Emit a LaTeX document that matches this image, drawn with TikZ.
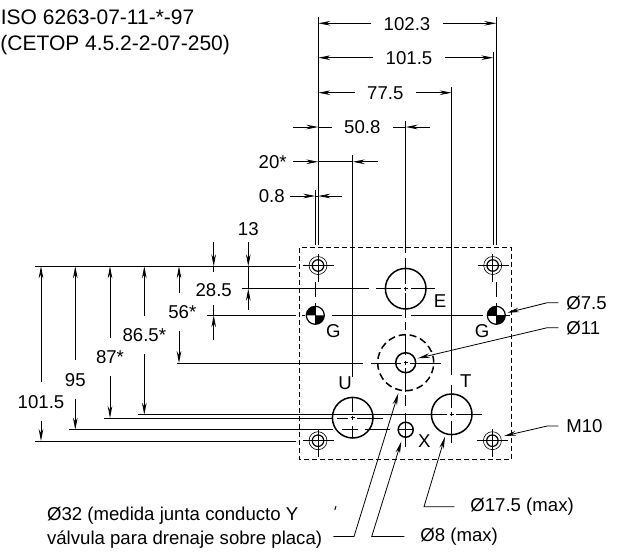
\documentclass[tikz,border=0pt]{standalone}
\usepackage{fontspec}
\setmainfont{Liberation Sans}
\usetikzlibrary{arrows.meta,positioning}
\tikzset{
  lab/.style={font=\fontsize{18.6}{22}\selectfont,inner sep=0pt,text height=13.4pt,text depth=0pt},
  head/.style={font=\fontsize{21}{25}\selectfont,inner sep=0pt,anchor=west,text height=15pt,text depth=0pt},
  hdim/.style={lab,inner xsep=12pt},
  vdim/.style={lab,minimum height=38pt},
  port/.style={circle,draw,line width=1.5pt,inner sep=0pt,minimum size=40.6pt},
  hole/.style={circle,draw,line width=1.2pt,inner sep=0pt,minimum size=11.5pt},
  holeout/.style={circle,draw,line width=.6pt,inner sep=0pt,minimum size=18pt},
  tick/.style={line width=.8pt}
}
\newcommand{\ctick}[1]{\draw[tick] (#1.center) ++(-2,0) -- ++(4,0) (#1.center) ++(0,-2) -- ++(0,4);}
\begin{document}
\begin{tikzpicture}[x=1pt,y=-1pt,line width=.8pt,>={Stealth[length=12pt,width=4.6pt]}]
  \useasboundingbox (0,0) rectangle (621,552);
  % reference lines
  \coordinate (xa) at (318.3,0);
  \coordinate (xb) at (315.3,0);
  \coordinate (xc) at (352.7,0);
  \coordinate (xd) at (405.7,0);
  \coordinate (xe) at (451.7,0);
  \coordinate (xf) at (493.3,0);
  \coordinate (xg) at (496.3,0);
  \coordinate (xq) at (179,0);
  \coordinate (ya) at (0,266.3);
  \coordinate (yb) at (0,288.7);
  \coordinate (yc) at (0,315.3);
  \coordinate (yd) at (0,363);
  \coordinate (ye) at (0,414.7);
  \coordinate (yf) at (0,418);
  \coordinate (yg) at (0,429.7);
  \coordinate (yh) at (0,441);

  % plate
  \draw[line width=.8pt,dash pattern=on 5pt off 3pt] (299.7,247.7) rectangle (511.7,459.3);

  % ports
  \node[port] (E) at (405.7,288.7) {};
  \node[port] (U) at (352.7,417.7) {};
  \node[port] (T) at (451.7,414.3) {};
  \node[circle,draw,line width=1.5pt,dash pattern=on 7pt off 4pt,inner sep=0pt,minimum size=56pt] (Y) at (405.7,362.7) {};
  \node[circle,draw,line width=1.5pt,inner sep=0pt,minimum size=20pt] (P) at (405.7,362.7) {};
  \node[circle,draw,line width=1.5pt,inner sep=0pt,minimum size=15pt] (X) at (405.7,429.7) {};
  \foreach \n/\x/\y in {ha/318/265.5,hb/492.7/265.5,hc/318/440.7,hd/492.4/440.7} {
    \node[holeout] (\n o) at (\x,\y) {};
    \node[hole] (\n) at (\x,\y) {};
    \draw (\n.center) ++(-15,0) -- ++(31,0) (\n.center) ++(0,-11.5) -- ++(0,28);
  }
  \foreach \g/\x in {gl/315.3,gr/496.3} {
    \node[circle,draw,line width=1.2pt,inner sep=0pt,minimum size=18pt] (\g) at (\x,315.3) {};
    \fill (\g.center) -- ++(9,0) arc[start angle=0,end angle=90,radius=9] -- cycle;
    \fill (\g.center) -- ++(-9,0) arc[start angle=180,end angle=270,radius=9] -- cycle;
  }
  \foreach \n in {E,U,T,P} {\ctick{\n}}

  % port letters
  \node[lab] (lE) at (440,300.7) {E};
  \node[lab] (lG) at (333.3,331) {G};
  \node[lab] (lH) at (482,331) {G};
  \node[lab] (lU) at (345,382.7) {U};
  \node[lab] (lT) at (465.7,380.3) {T};
  \node[lab] (lX) at (424.3,440.7) {X};

  % extension and centre lines, vertical
  \draw (318.3,17) -- (318.3,245);
  \draw (315.3,190) -- (315.3,245) (315.3,281.7) -- (315.3,296.7) (315.3,303) -- (315.3,325);
  \draw (496.3,17) -- (496.3,245) (496.3,281.7) -- (496.3,296.7) (496.3,303) -- (496.3,325);
  \draw (493.3,52) -- (493.3,245);
  \draw (451.7,87) -- (451.7,375) (451.7,385) -- (451.7,408) (451.7,421) -- (451.7,443);
  \draw (405.7,121) -- (405.7,253) (405.7,258) -- (405.7,284) (405.7,293) -- (405.7,318)
        (405.7,322) -- (405.7,330) (405.7,334) -- (405.7,355) (405.7,368) -- (405.7,392)
        (405.7,395) -- (405.7,406) (405.7,413) -- (405.7,447);
  \draw (352.7,155) -- (352.7,376.7) (352.7,398) -- (352.7,412) (352.7,426) -- (352.7,438);

  % extension and centre lines, horizontal
  \draw (35,266.3) -- (296,266.3);
  \draw (35,441) -- (296,441);
  \draw (241.7,288.7) -- (369.3,288.7) (376,288.7) -- (400.5,288.7) (411,288.7) -- (435,288.7);
  \draw (207.3,315.3) -- (296,315.3) (301.7,315.3) -- (305,315.3) (331.7,315.3) -- (401.7,315.3)
        (410.7,315.3) -- (483,315.3) (488,315.3) -- (510,315.3);
  \draw (176.7,363) -- (363,363) (370.7,363) -- (401,363) (410,363) -- (441,363);
  \draw (138,414.7) -- (447,414.7) (456,414.7) -- (481.7,414.7);
  \draw (104,418) -- (333,418) (337,418) -- (348,418) (357,418) -- (383,418);
  \draw (69,429.7) -- (333,429.7) (341.7,429.7) -- (358,429.7) (365,429.7) -- (390,429.7) (398,429.7) -- (413,429.7);

  % widths
  \node[hdim] (w102) at (407,23.3) {102.3};
  \draw[->] (w102.west) -- (xa|-w102);
  \draw[->] (w102.east) -- (xg|-w102);
  \node[hdim] (w101) at (409,57.7) {101.5};
  \draw[->] (w101.west) -- (xa|-w101);
  \draw[->] (w101.east) -- (xf|-w101);
  \node[hdim] (w77) at (385.3,92.7) {77.5};
  \draw[->] (w77.west) -- (xa|-w77);
  \draw[->] (w77.east) -- (xe|-w77);
  \node[hdim] (w50) at (362.3,127) {50.8};
  \draw (w50.west) -- (xa|-w50);
  \draw[->] (xa|-w50) ++(-25,0) -- (xa|-w50);
  \draw (w50.east) -- (xd|-w50);
  \draw[->] (xd|-w50) ++(24.6,0) -- (xd|-w50);
  \node[lab] (w20) at (272.7,161.8) {20*};
  \draw[->] (xa|-w20) ++(-25,0) -- (xa|-w20);
  \draw (xa|-w20) -- (xc|-w20);
  \draw[->] (xc|-w20) ++(25,0) -- (xc|-w20);
  \node[lab] (w08) at (271.7,196) {0.8};
  \draw[->] (xb|-w08) ++(-25,0) -- (xb|-w08);
  \draw (xb|-w08) -- (xa|-w08);
  \draw[->] (xa|-w08) ++(24,0) -- (xa|-w08);

  % heights
  \node[vdim] (h101) at (41,401.7) {101.5};
  \draw[->] (h101.north) -- (h101.north|-ya);
  \draw[->] (h101.south) -- (h101.south|-yh);
  \node[vdim] (h95) at (75.3,379.3) {95};
  \draw[->] (h95.north) -- (h95.north|-ya);
  \draw[->] (h95.south) -- (h95.south|-yg);
  \node[vdim] (h87) at (110,357) {87*};
  \draw[->] (h87.north) -- (h87.north|-ya);
  \draw[->] (h87.south) -- (h87.south|-yf);
  \node[vdim] (h86) at (144.3,335) {86.5*};
  \draw[->] (h86.north) -- (h86.north|-ya);
  \draw[->] (h86.south) -- (h86.south|-ye);
  \node[vdim] (h56) at (182.3,312) {56*};
  \draw[->] (h56.north-|xq) -- (xq|-ya);
  \draw[->] (h56.south-|xq) -- (xq|-yd);
  \node[lab] (h28) at (213.7,289.3) {28.5};
  \draw[->] (h28.north|-ya) ++(0,-24.6) -- (h28.north|-ya);
  \draw (h28.north|-ya) -- ++(0,5.7);
  \draw[->] (h28.south|-yc) ++(0,24.7) -- (h28.south|-yc);
  \draw (h28.south|-yc) -- ++(0,-10);
  \node[lab] (h13) at (248.3,228.3) {13};
  \draw[->] (h13.south|-ya) ++(0,-24.6) -- (h13.south|-ya);
  \draw (h13.south|-ya) -- (h13.south|-yb);
  \draw[->] (h13.south|-yb) ++(0,21.3) -- (h13.south|-yb);

  % header
  \node[head] (iso) at (0.5,16.7) {ISO 6263-07-11-*-97};
  \node[head] (cetop) at (0,42.7) {(CETOP 4.5.2-2-07-250)};

  % leaders on the right
  \node[lab,anchor=west] (d75) at (566,302.7) {Ø7.5};
  \node[lab,anchor=west] (d11) at (566,327.7) {Ø11};
  \node[lab,anchor=west] (m10) at (566,426) {M10};
  \coordinate (t75) at (507.3,312.7);
  \coordinate (t11) at (417.7,358.3);
  \coordinate (t10) at (504,436);
  \draw[->] (558.3,302.7) -- (547.3,302.7) -- (t75);
  \draw[->] (558.3,327.7) -- (547.3,327.7) -- (t11);
  \draw[->] (558.3,426) -- (547.3,426) -- (t10);

  % leaders below
  \node[lab,anchor=west] (d32) at (46.7,514) {Ø32 (medida junta conducto Y};
  \node[lab,anchor=west] (val) at (46.7,538) {válvula para drenaje sobre placa)};
  \node[lab,anchor=west] (d8) at (420,534.3) {Ø8 (max)};
  \node[lab,anchor=west] (d17) at (470,505) {Ø17.5 (max)};
  \coordinate (t32) at (398.3,393.3);
  \coordinate (t8) at (401.3,441.5);
  \coordinate (t17) at (445,436.7);
  \draw[->] (333.3,536.5) -- (354,536.5) -- (t32);
  \draw[->] (404.3,536.5) -- (371.7,536.5) -- (t8);
  \draw[->] (454.3,506.7) -- (424,506.7) -- (t17);
  \draw[line width=1pt] (336,506) -- (334.8,510);
\end{tikzpicture}
\end{document}
